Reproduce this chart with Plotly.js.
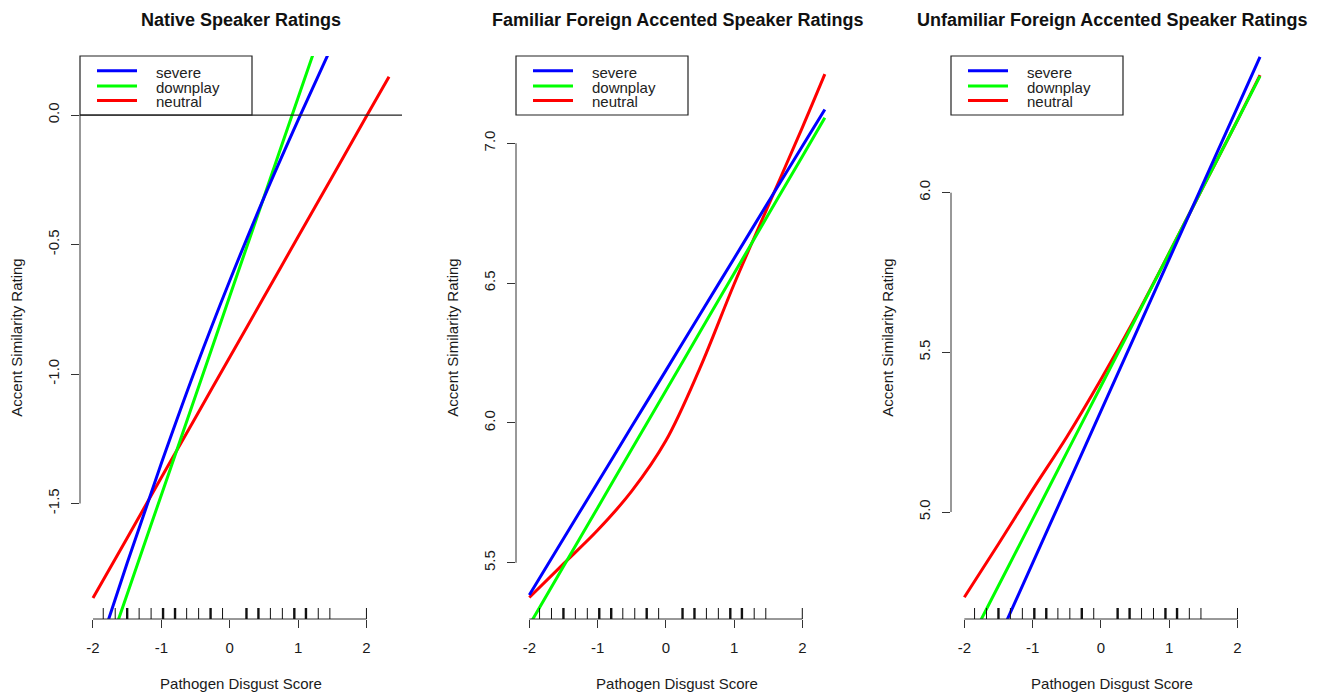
<!DOCTYPE html>
<html>
<head>
<meta charset="utf-8">
<script src="https://cdn.plot.ly/plotly-3.0.1.min.js"></script>
<style>html,body{margin:0;padding:0;background:#fff;}#chart{width:1323px;height:693px;}</style>
</head>
<body>
<div id="chart"></div>
<script>
// ---- data ----
const panelTitles = ['Native Speaker Ratings', 'Familiar Foreign Accented Speaker Ratings', 'Unfamiliar Foreign Accented Speaker Ratings'];
const seriesNames = ['severe', 'downplay', 'neutral'];
const xGrid = [-2, -1.5, -1, -0.5, 0, 0.5, 1, 1.5, 2, 2.33];

const nativeSevere   = [-2.13, -1.73, -1.345, -0.98, -0.64, -0.32, -0.02, 0.27, 0.55, 0.73];
const nativeDownplay = [-2.234, -1.85, -1.467, -1.084, -0.70, -0.317, 0.067, 0.45, 0.834, 1.087];
const nativeNeutral  = [-1.865, -1.633, -1.40, -1.168, -0.935, -0.703, -0.47, -0.238, -0.005, 0.148];

const familiarSevere   = [5.385, 5.586, 5.786, 5.987, 6.187, 6.388, 6.588, 6.789, 6.989, 7.121];
const familiarDownplay = [5.277, 5.487, 5.696, 5.906, 6.115, 6.325, 6.534, 6.744, 6.953, 7.091];
const familiarNeutral  = [5.376, 5.496, 5.616, 5.756, 5.936, 6.196, 6.496, 6.776, 7.056, 7.247];

const unfamiliarSevere   = [4.364, 4.602, 4.840, 5.078, 5.316, 5.554, 5.792, 6.03, 6.268, 6.425];
const unfamiliarDownplay = [4.561, 4.769, 4.977, 5.186, 5.394, 5.602, 5.811, 6.019, 6.227, 6.365];
const unfamiliarNeutral  = [4.733, 4.90, 5.07, 5.235, 5.415, 5.607, 5.811, 6.019, 6.227, 6.368];

const rugValues = [-1.85, -1.675, -1.5, -1.325, -1.15, -0.975, -0.8, -0.63, -0.455, -0.28, -0.105, 0.245, 0.42, 0.595, 0.77, 0.945, 1.115, 1.295, 1.465, 2.0];
const rugCounts = [1, 1, 2, 1, 1, 2, 2, 1, 1, 2, 1, 2, 2, 1, 1, 2, 2, 1, 1, 1];

const xTickVals = [-2, -1, 0, 1, 2];
const xTickLabels = ['-2', '-1', '0', '1', '2'];
const yTickVals = [[-1.5, -1.0, -0.5, 0.0], [5.5, 6.0, 6.5, 7.0], [5.0, 5.5, 6.0]];
const yTickLabels = [['-1.5', '-1.0', '-0.5', '0.0'], ['5.5', '6.0', '6.5', '7.0'], ['5.0', '5.5', '6.0']];

const xLabel = 'Pathogen Disgust Score';
const yLabel = 'Accent Similarity Rating';

// ---- styling / layout ----
const colors = {severe: '#0000ff', downplay: '#00ff00', neutral: '#ff0000'};
const panelSeries = [
  {severe: nativeSevere, downplay: nativeDownplay, neutral: nativeNeutral},
  {severe: familiarSevere, downplay: familiarDownplay, neutral: familiarNeutral},
  {severe: unfamiliarSevere, downplay: unfamiliarDownplay, neutral: unfamiliarNeutral}
];
const W = 1323, H = 693;
const xDomPx = [[80, 402], [516, 838], [951, 1273]];
const yDomPx = [56, 619];
const xRanges = [[-2.19, 2.52], [-2.195, 2.523], [-2.195, 2.52]];
const yRanges = [[-1.946, 0.228], [5.299, 7.312], [4.665, 6.428]];
const FONT = 'Liberation Sans, Arial, Helvetica, sans-serif';
const txt = '#1a1a1a';
const axc = '#333333';

const traces = [];
const shapes = [];
const annotations = [];
const layout = {
  width: W, height: H,
  margin: {l: 0, r: 0, t: 0, b: 0},
  paper_bgcolor: '#fff', plot_bgcolor: '#fff',
  showlegend: false,
  font: {family: FONT, size: 15, color: txt}
};

const drawOrder = ['neutral', 'downplay', 'severe'];
for (let p = 0; p < 3; p++) {
  const sfx = p === 0 ? '' : String(p + 1);
  const xa = 'x' + sfx, ya = 'y' + sfx;
  drawOrder.forEach(name => {
    traces.push({
      type: 'scatter', mode: 'lines', x: xGrid, y: panelSeries[p][name],
      xaxis: xa, yaxis: ya, name: name,
      line: {color: colors[name], width: 3, shape: 'spline', smoothing: 1},
      hoverinfo: 'x+y+name'
    });
  });
  const plotH = yDomPx[1] - yDomPx[0];
  const plotW = xDomPx[p][1] - xDomPx[p][0];
  layout['xaxis' + sfx] = {
    domain: [xDomPx[p][0] / W, xDomPx[p][1] / W],
    range: xRanges[p], anchor: ya,
    showgrid: false, zeroline: false, showline: false,
    ticks: 'outside', ticklen: 8, tickwidth: 1, tickcolor: axc,
    tickvals: xTickVals, ticktext: xTickLabels,
    tickfont: {family: FONT, size: 15, color: txt},
    ticklabelstandoff: 7,
    title: {text: xLabel, font: {family: FONT, size: 15, color: txt}, standoff: 23}
  };
  layout['yaxis' + sfx] = {
    domain: [(H - yDomPx[1]) / H, (H - yDomPx[0]) / H],
    range: yRanges[p], anchor: xa,
    showgrid: false, zeroline: false, showline: false,
    ticks: 'outside', ticklen: 8, tickwidth: 1, tickcolor: axc,
    tickvals: yTickVals[p], ticktext: yTickLabels[p], tickangle: -90,
    tickfont: {family: FONT, size: 15, color: txt},
    ticklabelstandoff: 6,
    title: {text: yLabel, font: {family: FONT, size: 15, color: txt}, standoff: 18}
  };
  // R-style axis lines spanning tick range
  shapes.push({type: 'line', xref: xa, yref: ya + ' domain',
    x0: xTickVals[0], x1: xTickVals[xTickVals.length - 1], y0: 0, y1: 0,
    line: {color: axc, width: 1}});
  const yt = yTickVals[p];
  shapes.push({type: 'line', xref: xa + ' domain', yref: ya,
    x0: 0, x1: 0, y0: yt[0], y1: yt[yt.length - 1],
    line: {color: axc, width: 1}});
  // rug
  rugValues.forEach((v, i) => {
    shapes.push({type: 'line', xref: xa, yref: ya + ' domain',
      x0: v, x1: v, y0: 0, y1: 11 / plotH,
      line: {color: '#111', width: rugCounts[i] > 1 ? 2.4 : 1}});
  });
  // abline h = 0 on native panel
  if (p === 0) {
    shapes.push({type: 'line', xref: xa + ' domain', yref: ya,
      x0: 0, x1: 1, y0: 0, y1: 0, line: {color: '#222', width: 1.2}});
  }
  // legend box
  shapes.push({type: 'rect', xref: xa + ' domain', yref: ya + ' domain',
    x0: 0, x1: 172 / plotW, y0: 1 - 59 / plotH, y1: 1,
    line: {color: '#222', width: 1.2}, fillcolor: 'rgba(255,255,255,0)'});
  const rowOff = [14.7, 30, 44.5];
  seriesNames.forEach((name, i) => {
    const yy = 1 - rowOff[i] / plotH;
    shapes.push({type: 'line', xref: xa + ' domain', yref: ya + ' domain',
      x0: 17 / plotW, x1: 57 / plotW, y0: yy, y1: yy,
      line: {color: colors[name], width: 3}});
    annotations.push({xref: xa + ' domain', yref: ya + ' domain',
      x: 74 / plotW, y: yy - 1.5 / plotH, xanchor: 'left', yanchor: 'middle',
      text: name, showarrow: false, font: {family: FONT, size: 15, color: '#222'}});
  });
  // title
  annotations.push({xref: xa + ' domain', yref: 'paper', x: 0.5, y: 1 - 20 / H,
    xanchor: 'center', yanchor: 'middle', showarrow: false,
    text: '<b>' + panelTitles[p] + '</b>', font: {family: FONT, size: 18, color: '#111'}});
}
layout.shapes = shapes;
layout.annotations = annotations;

Plotly.newPlot('chart', traces, layout, {displayModeBar: false, staticPlot: true});
</script>
</body>
</html>
